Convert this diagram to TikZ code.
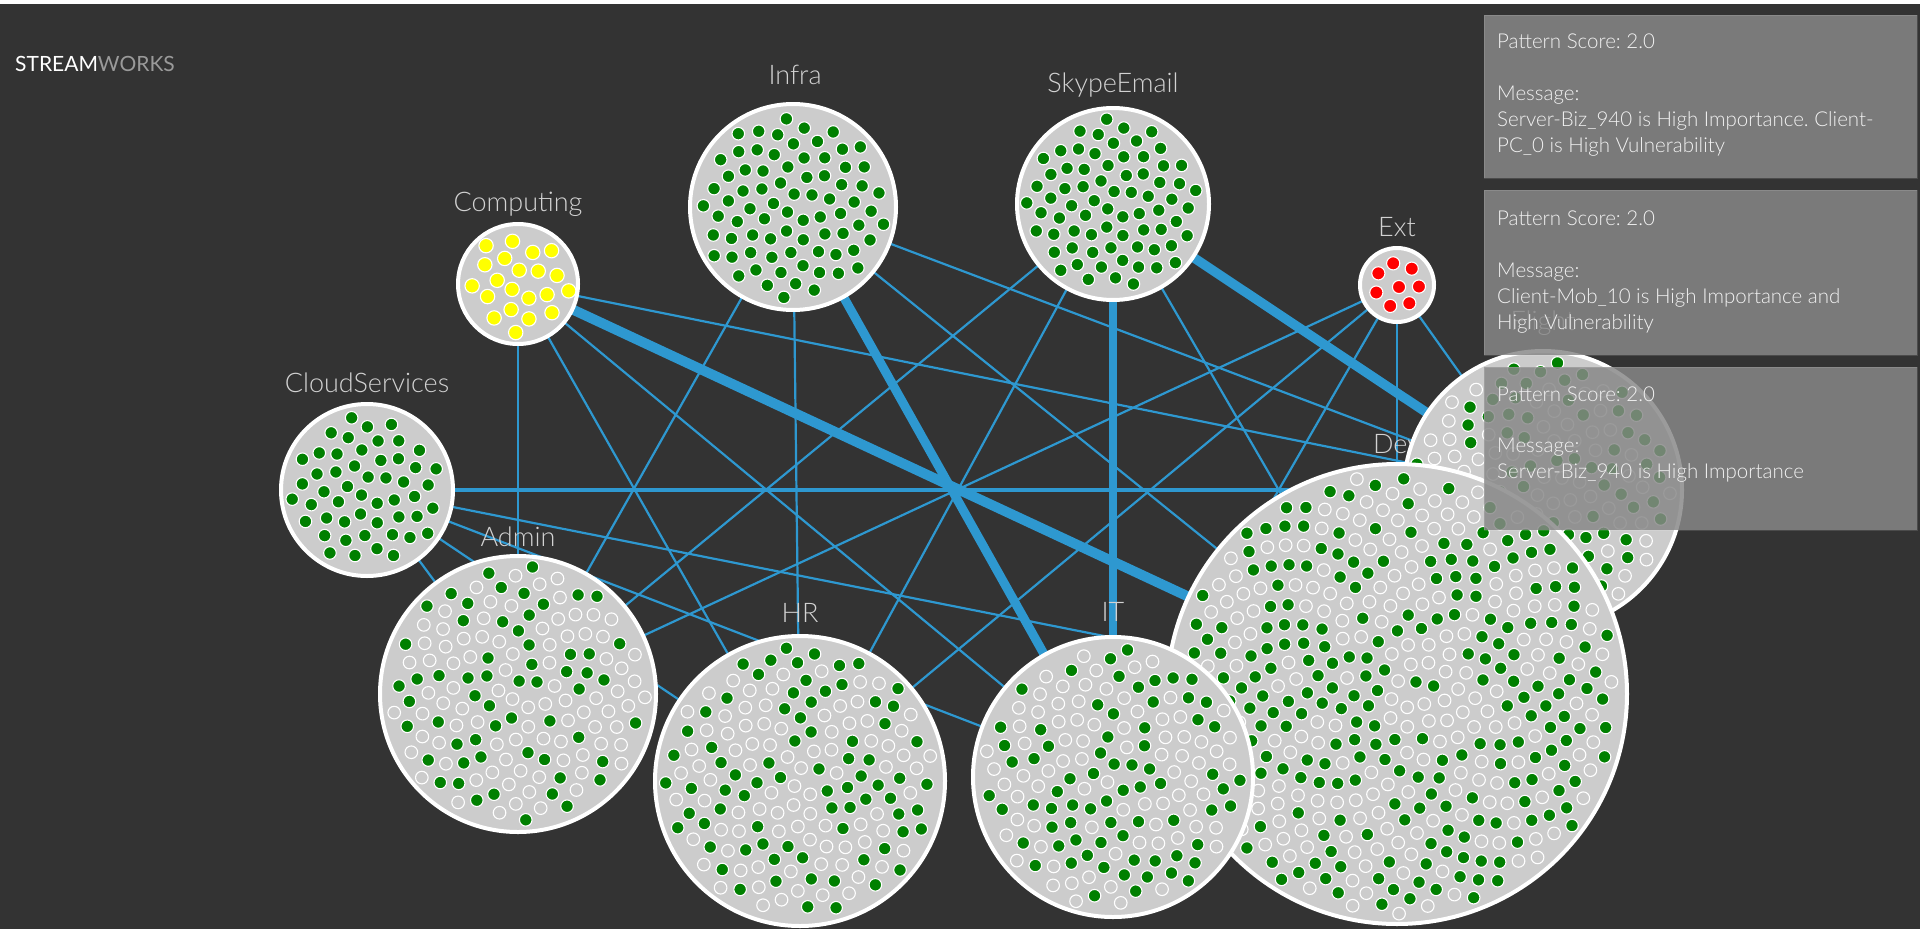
\documentclass[tikz,border=0pt]{standalone}
\usepackage{fontspec}
\setmainfont{Lato}
\newfontfamily\lightfont{Lato Light}
\usetikzlibrary{calc}
\definecolor{bgc}{HTML}{333333}
\definecolor{edgec}{HTML}{2E98D0}
\definecolor{diskc}{HTML}{CCCCCC}
\definecolor{dgreen}{HTML}{008000}
\definecolor{dyellow}{HTML}{FFFF00}
\definecolor{dred}{HTML}{FF0000}
\definecolor{lblc}{HTML}{D2D2D2}
\definecolor{tipc}{HTML}{888888}
\definecolor{tiptxt}{HTML}{F2F2F2}
\definecolor{logogray}{HTML}{9A9A9A}
\newcommand\packdots[7]{%
  \foreach \k in {1,...,#2}{%
    \pgfmathsetmacro\pkr{#3*sqrt(\k-0.5)}%
    \pgfmathsetmacro\pkt{\k*0.381966}%
    \pgfmathsetmacro\pka{360*(\pkt-floor(\pkt))}%
    \pgfmathsetmacro\pkp{rnd}%
    \ifdim\pkp pt<#5pt\def\pkc{#6}\else\def\pkc{#7}\fi
    \filldraw[fill=\pkc,draw=white,line width=1.1pt] ($(#1)+(\pka:\pkr)$) circle[radius=#4];
  }%
}
\tikzset{
  lbl/.style={text=lblc, font=\lightfont\fontsize{27}{32}\selectfont, anchor=base, inner sep=0pt},
  disk/.style={circle, fill=diskc, draw=white, line width=4pt, inner sep=0pt, minimum size=#1},
  link/.style={draw=edgec, line width=2.2pt},
  midlink/.style={draw=edgec, line width=3.5pt},
  heavy/.style={draw=edgec, line width=#1},
  reddot/.style={fill=dred, draw=white, line width=1.1pt},
  tipbox/.style={fill=tipc, fill opacity=0.84, draw=white, draw opacity=0.12, line width=1pt},
  tiptext/.style={text=tiptxt, font=\lightfont\fontsize{20.5}{26}\selectfont, anchor=base west, inner sep=0pt},
}
\frenchspacing
\begin{document}
\begin{tikzpicture}[x=1pt, y=-1pt]
\pgfmathsetseed{4242}
\useasboundingbox (0,0) rectangle (1920,929);
\fill[bgc] (0,0) rectangle (1920,929);
\fill[white] (0,0) rectangle (1920,3.5);
% centres
\coordinate (Cl) at (367,490);
\coordinate (Co) at (518,284);
\coordinate (In) at (793,207);
\coordinate (Sk) at (1113,204);
\coordinate (Ex) at (1397,285);
\coordinate (Fl) at (1543,490);
\coordinate (De) at (1397,694);
\coordinate (IT) at (1113,777);
\coordinate (HR) at (800,781);
\coordinate (Ad) at (518,694);
% edges
\draw[link] (Cl) -- (De);
\draw[link] (Cl) -- (IT);
\draw[link] (Cl) -- (HR);
\draw[link] (Cl) -- (Ad);
\draw[link] (Co) -- (Ad);
\draw[link] (Co) -- (HR);
\draw[link] (Co) -- (IT);
\draw[link] (Co) -- (Fl);
\draw[link] (In) -- (HR);
\draw[link] (In) -- (Ad);
\draw[link] (In) -- (Fl);
\draw[link] (In) -- (De);
\draw[link] (Sk) -- (Ad);
\draw[link] (Sk) -- (HR);
\draw[link] (Sk) -- (De);
\draw[link] (Ex) -- (Ad);
\draw[link] (Ex) -- (HR);
\draw[link] (Ex) -- (IT);
\draw[link] (Ex) -- (De);
\draw[link] (Ex) -- (Fl);
\draw[midlink] (Cl) -- (Fl);
\draw[heavy=10pt] (Co) -- (De);
\draw[heavy=9pt] (In) -- (IT);
\draw[heavy=8pt] (Sk) -- (IT);
\draw[heavy=9.5pt] (Sk) -- (Fl);
% labels
\node[lbl] (lCl) at (367,392) {CloudServices};
\node[lbl] (lCo) at (518,211) {Computing};
\node[lbl] (lIn) at (795,84) {Infra};
\node[lbl] (lSk) at (1113,92) {SkypeEmail};
\node[lbl] (lEx) at (1397,236) {Ext};
\node[lbl] (lFl) at (1543,330) {Flight};
\node[lbl] (lDe) at (1397,453) {Dev};
\node[lbl] (lIT) at (1113,621) {IT};
\node[lbl] (lHR) at (800,622) {HR};
\node[lbl] (lAd) at (518,546) {Admin};
% groups
\node[disk=172pt] (dCl) at (Cl) {};
\packdots{Cl}{51}{10.6}{6.3}{1.1}{dgreen}{diskc}
\node[disk=120pt] (dCo) at (Co) {};
\packdots{Co}{21}{11.3}{7.2}{1.1}{dyellow}{diskc}
\node[disk=206pt] (dIn) at (In) {};
\packdots{In}{77}{10.6}{6.3}{1.1}{dgreen}{diskc}
\node[disk=192pt] (dSk) at (Sk) {};
\packdots{Sk}{72}{10.2}{6.3}{1.1}{dgreen}{diskc}
\node[disk=74pt] (dEx) at (Ex) {};
\foreach \ea in {-100,-48,4,56,108,160,212}{
  \filldraw[reddot] ($(Ex)+(\ea:22)$) circle[radius=6.6];
}
\filldraw[reddot] ($(Ex)+(2,2)$) circle[radius=6.6];
\node[disk=276pt] (dAd) at (Ad) {};
\packdots{Ad}{146}{10.6}{6.3}{0.42}{dgreen}{diskc}
\node[disk=290pt] (dHR) at (HR) {};
\packdots{HR}{162}{10.6}{6.3}{0.45}{dgreen}{diskc}
\node[disk=278pt] (dFl) at (Fl) {};
\packdots{Fl}{148}{10.6}{6.3}{0.5}{dgreen}{diskc}
\node[disk=460pt] (dDe) at (De) {};
\packdots{De}{431}{10.6}{6.3}{0.5}{dgreen}{diskc}
\node[disk=280pt] (dIT) at (IT) {};
\packdots{IT}{150}{10.6}{6.3}{0.52}{dgreen}{diskc}
% logo
\node[anchor=base west, inner sep=0pt, font=\fontsize{21}{25}\selectfont] (logo) at (15,71) {\textcolor{white}{STREAM}\textcolor{logogray}{WORKS}};
% tooltips
\path[tipbox] (1484,15) rectangle (1917,178) node[pos=0, inner sep=0pt] (tip1) {};
\path[tipbox] (1484,190) rectangle (1917,355) node[pos=0, inner sep=0pt] (tip2) {};
\path[tipbox] (1484,367) rectangle (1917,530) node[pos=0, inner sep=0pt] (tip3) {};
\node[tiptext] (t1a) at (1497,48) {Pattern Score: 2.0};
\node[tiptext] (t1b) at (1497,100) {Message:};
\node[tiptext] (t1c) at (1497,126) {Server-Biz\_940 is High Importance. Client-};
\node[tiptext] (t1d) at (1497,152) {PC\_0 is High Vulnerability};
\node[tiptext] (t2a) at (1497,225) {Pattern Score: 2.0};
\node[tiptext] (t2b) at (1497,277) {Message:};
\node[tiptext] (t2c) at (1497,303) {Client-Mob\_10 is High Importance and};
\node[tiptext] (t2d) at (1497,329) {High Vulnerability};
\node[tiptext] (t3a) at (1497,401) {Pattern Score: 2.0};
\node[tiptext] (t3b) at (1497,452) {Message:};
\node[tiptext] (t3c) at (1497,478) {Server-Biz\_940 is High Importance};
\end{tikzpicture}
\end{document}
